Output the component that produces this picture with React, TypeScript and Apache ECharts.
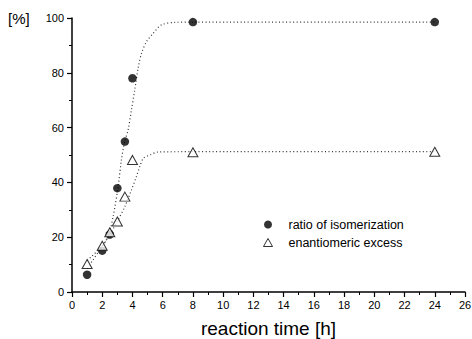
import React, { useEffect, useRef } from "react";
import * as echarts from "echarts";

const isoTime = [1, 2, 2.5, 3, 3.5, 4, 8, 24];
const isoValue = [6.3, 15.1, 21, 37.9, 54.9, 78, 98.5, 98.5];
const eeTime = [1, 2, 2.5, 3, 3.5, 4, 8, 24];
const eeValue = [10.2, 16.9, 21.8, 25.7, 34.8, 48.2, 51, 51.2];

const isoFitX = [1, 1.39, 1.83, 2.39, 2.72, 3.05, 3.27, 3.49, 3.71, 3.93, 4.15, 4.39, 4.6, 4.93, 5.37, 5.92, 6.8, 8, 24];
const isoFitY = [8.6, 11.7, 15.3, 20.2, 27.5, 38.4, 48.2, 55, 59.1, 66.4, 73.7, 82.2, 87.1, 91.4, 94.4, 97.5, 98.4, 98.5, 98.5];
const eeFitX = [1, 1.28, 1.95, 2.61, 3.05, 3.49, 3.93, 4.26, 4.48, 4.72, 5.15, 5.7, 8, 24];
const eeFitY = [11.5, 12.9, 16.5, 22, 26.3, 31.1, 37.2, 42.1, 45.7, 48.8, 50, 51.1, 51.2, 51.2];

const xTicks = { min: 0, max: 26, interval: 2 };
const yTicks = { min: 0, max: 100, interval: 20 };

const FONT = "Liberation Sans, Arial, sans-serif";

export default function App() {
  const ref = useRef<HTMLDivElement>(null);
  useEffect(() => {
    document.body.style.margin = "0";
    const chart = echarts.init(ref.current!, null, { renderer: "svg" });
    const zip = (xs: number[], ys: number[]) => xs.map((x, i) => [x, ys[i]]);
    chart.setOption({
      animation: false,
      backgroundColor: "#fff",
      grid: { left: 72, right: 7, top: 18, bottom: 47, outerBoundsMode: "none", containLabel: false },
      legend: {
        orient: "vertical",
        left: 258,
        top: 213,
        itemGap: 5,
        itemWidth: 9,
        itemHeight: 8,
        textStyle: { fontFamily: FONT, fontSize: 12.5, color: "#000", padding: [0, 0, 0, 11] },
        data: [
          { name: "ratio of isomerization", icon: "circle", itemStyle: { color: "#000" } },
          {
            name: "enantiomeric excess",
            icon: "triangle",
            itemStyle: { color: "#fff", borderColor: "#000", borderWidth: 1 },
          },
        ],
      },
      graphic: [
        {
          type: "text",
          left: 8,
          top: 11,
          style: { text: "[%]", font: `15px ${FONT}`, fill: "#000" },
        },
      ],
      xAxis: {
        type: "value",
        min: xTicks.min,
        max: xTicks.max,
        interval: xTicks.interval,
        name: "reaction time [h]",
        nameLocation: "middle",
        nameGap: 27,
        nameTextStyle: { fontFamily: FONT, fontSize: 19, color: "#000" },
        axisLine: { show: true, lineStyle: { color: "#000", width: 1.5 } },
        axisTick: { show: true, length: 5, lineStyle: { color: "#000", width: 1.2 } },
        minorTick: { show: true, splitNumber: 2, length: 3, lineStyle: { color: "#000", width: 1 } },
        axisLabel: { fontFamily: FONT, fontSize: 11, color: "#000", margin: 7 },
        splitLine: { show: false },
      },
      yAxis: {
        type: "value",
        min: yTicks.min,
        max: yTicks.max,
        interval: yTicks.interval,
        axisLine: { show: true, lineStyle: { color: "#000", width: 1.5 } },
        axisTick: { show: true, length: 5, lineStyle: { color: "#000", width: 1.2 } },
        minorTick: { show: true, splitNumber: 2, length: 3, lineStyle: { color: "#000", width: 1 } },
        axisLabel: { fontFamily: FONT, fontSize: 11, color: "#000", margin: 8 },
        splitLine: { show: false },
      },
      series: [
        {
          name: "isoFit",
          type: "line",
          data: zip(isoFitX, isoFitY),
          smooth: 0.3,
          showSymbol: false,
          lineStyle: { type: [1, 2.5], width: 1.2, color: "#333" },
          silent: true,
          z: 1,
        },
        {
          name: "eeFit",
          type: "line",
          data: zip(eeFitX, eeFitY),
          smooth: 0.3,
          showSymbol: false,
          lineStyle: { type: [1, 2.5], width: 1.2, color: "#333" },
          silent: true,
          z: 1,
        },
        {
          name: "ratio of isomerization",
          type: "scatter",
          data: zip(isoTime, isoValue),
          symbol: "circle",
          symbolSize: 8.5,
          itemStyle: { color: "#000" },
          z: 3,
        },
        {
          name: "enantiomeric excess",
          type: "scatter",
          data: zip(eeTime, eeValue),
          symbol: "triangle",
          symbolSize: [10, 9],
          itemStyle: { color: "#fff", borderColor: "#000", borderWidth: 1 },
          z: 4,
        },
      ],
    });
    return () => chart.dispose();
  }, []);
  return <div ref={ref} style={{ width: 472, height: 339 }} />;
}
